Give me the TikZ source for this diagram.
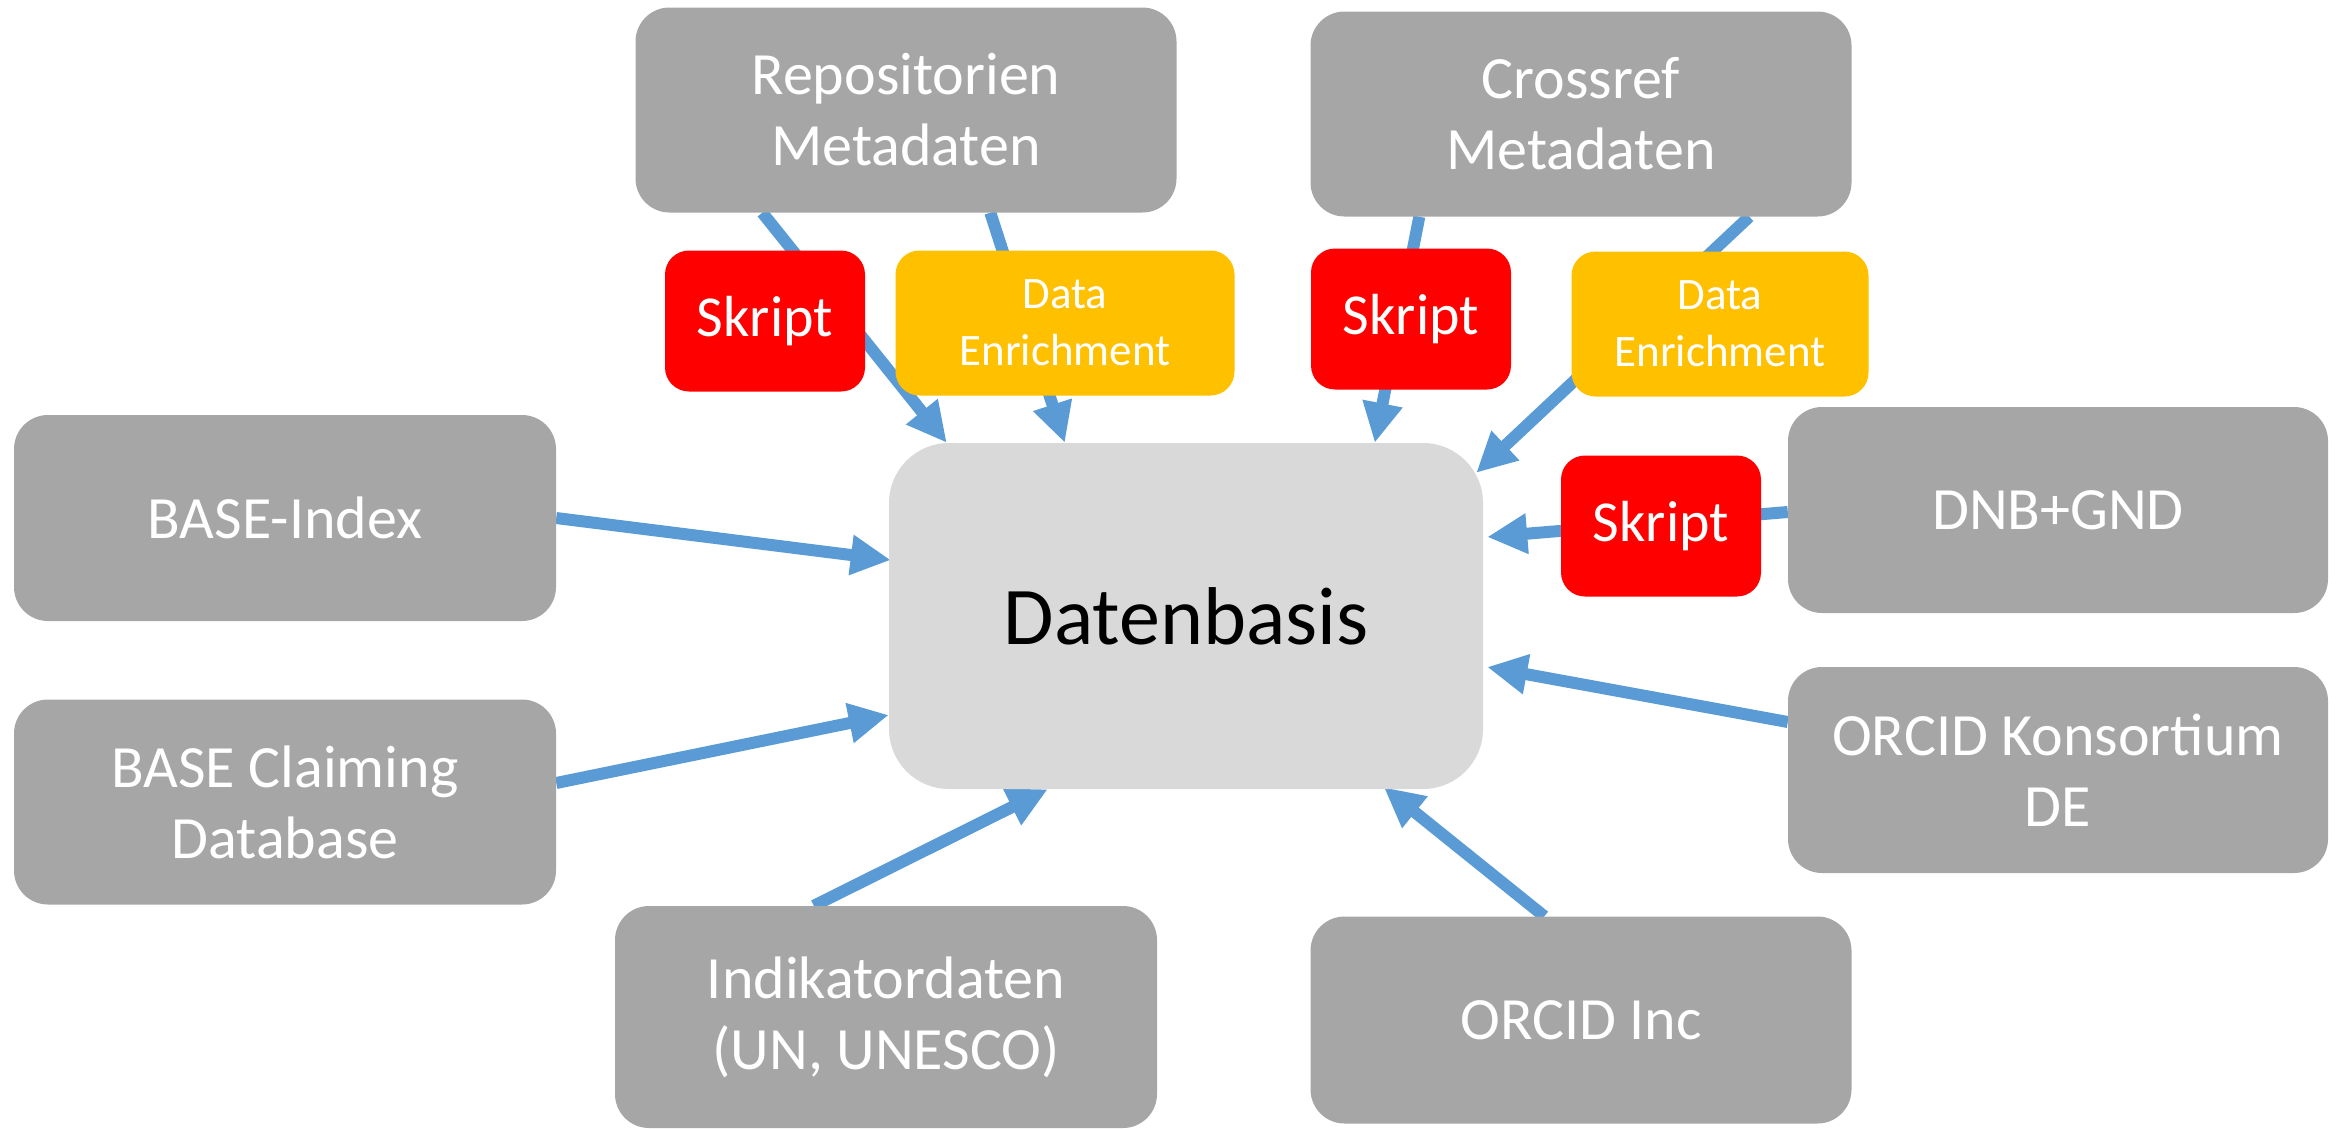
\documentclass[tikz,border=0pt]{standalone}
\usepackage{fontspec}
\setmainfont{Carlito}
\usetikzlibrary{arrows.meta,backgrounds}
\definecolor{boxgray}{HTML}{A6A6A6}
\definecolor{dbgray}{HTML}{D9D9D9}
\definecolor{skred}{HTML}{FF0000}
\definecolor{deyel}{HTML}{FFC000}
\definecolor{arrblue}{HTML}{5B9BD5}
\begin{document}
\begin{tikzpicture}[x=1pt,y=-1pt,
  src/.style={fill=boxgray, text=white, rounded corners=34pt, inner sep=0pt, align=center,
    font=\fontsize{60}{71}\selectfont},
  skbox/.style={fill=skred, text=white, rounded corners=24pt, inner sep=0pt, align=center,
    minimum width=200pt, minimum height=141pt, font=\fontsize{58}{68}\selectfont},
  debox/.style={fill=deyel, text=white, rounded corners=24pt, inner sep=0pt, align=center,
    minimum height=145pt, font=\fontsize{45}{57}\selectfont},
  dbbox/.style={fill=dbgray, text=black, rounded corners=60pt, inner sep=0pt, align=center,
    font=\fontsize{82}{98}\selectfont},
  arr/.style={draw=arrblue, line width=12pt, -{Triangle[length=40pt,width=38pt]}}
]
\useasboundingbox (0,0) rectangle (2341,1128);

% central node
\node[dbbox, minimum width=594pt, minimum height=346pt] (db) at (1186,616) {Datenbasis};

% sources
\node[src, minimum width=541pt, minimum height=205pt] (repo) at (906,110) {Repositorien\\Metadaten};
\node[src, minimum width=541pt, minimum height=205pt] (cross) at (1581,114) {Crossref\\Metadaten};
\node[src, minimum width=542pt, minimum height=206pt] (base) at (285,518) {BASE-Index};
\node[src, minimum width=542pt, minimum height=205pt] (claim) at (285,802) {BASE Claiming\\Database};
\node[src, minimum width=540pt, minimum height=206pt] (dnb) at (2058,510) {DNB+GND};
\node[src, minimum width=540pt, minimum height=206pt] (orck) at (2058,770) {ORCID Konsortium\\DE};
\node[src, minimum width=542pt, minimum height=222pt] (ind) at (886,1017) {Indikatordaten\\(UN, UNESCO)};
\node[src, minimum width=541pt, minimum height=207pt] (orci) at (1581,1020) {ORCID Inc};

% process boxes
\node[skbox] (sk1) at (765,321) {Skript};
\node[debox, minimum width=339pt] (de1) at (1065,323) {Data\\Enrichment};
\node[skbox] (sk2) at (1411,319) {Skript};
\node[debox, minimum width=297pt] (de2) at (1720,324) {Data\\Enrichment};
\node[skbox] (sk3) at (1661,526) {Skript};

% connectors
\begin{scope}[on background layer]
\draw[arr] ([xshift=127pt]repo.south west) -- ([xshift=58pt]db.north west);
\draw[arr] ([xshift=355pt]repo.south west) -- ([xshift=176pt]db.north west);
\draw[arr] ([xshift=109pt]cross.south west) -- ([xshift=486pt]db.north west);
\draw[arr] ([xshift=439pt]cross.south west) -- ([xshift=-7pt,yshift=-30pt]db.north east);
\draw[arr] ([yshift=-2pt]dnb.west) -- ([xshift=4pt,yshift=79pt]db.east);
\draw[arr] ([yshift=48pt]orck.west) -- ([xshift=4pt,yshift=-51pt]db.east);
\draw[arr] ([xshift=234pt]orci.north west) -- ([xshift=495pt,yshift=2pt]db.south west);
\draw[arr] ([xshift=199pt]ind.north west) -- ([xshift=159pt]db.south west);
\draw[arr] (base.east) -- ([xshift=2pt,yshift=56pt]db.west);
\draw[arr] ([yshift=19pt]claim.east) -- ([yshift=-99pt]db.west);
\end{scope}
\end{tikzpicture}
\end{document}
